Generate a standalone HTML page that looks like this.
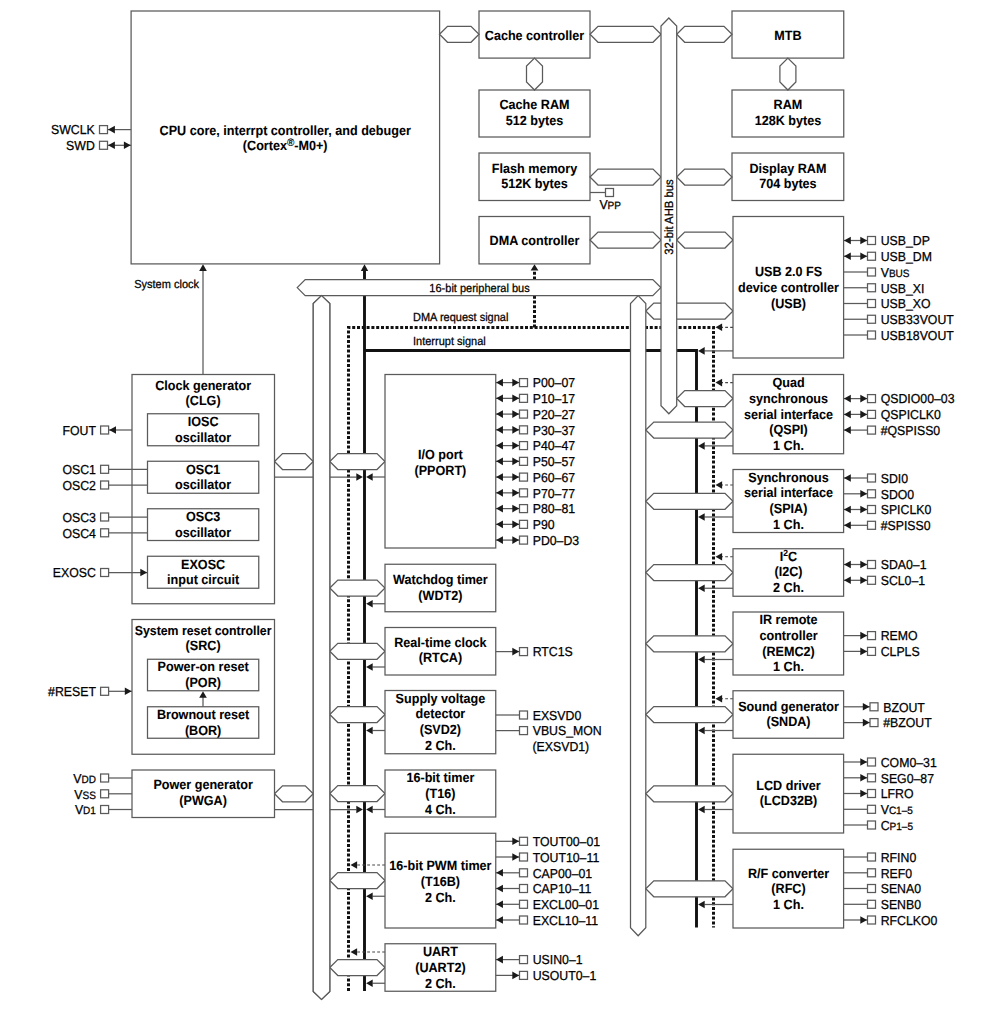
<!DOCTYPE html>
<html><head><meta charset="utf-8"><style>
html,body{margin:0;padding:0;background:#fff;}
svg{display:block;}
.b{fill:#fff;stroke:#5a5a5a;stroke-width:1.25;}
.p{fill:#fff;stroke:#5a5a5a;stroke-width:1.25;}
.h{fill:#fff;stroke:#5a5a5a;stroke-width:1.25;stroke-linejoin:miter;}
.l{stroke:#5a5a5a;stroke-width:1.25;fill:none;}
.ds{stroke:#484848;stroke-width:1.2;stroke-dasharray:2.8 2.2;fill:none;}
.a{fill:#1a1a1a;stroke:none;}
.thk{stroke:#111;stroke-width:2.9;fill:none;}
.dot{stroke:#111;stroke-width:3;stroke-dasharray:3 1.8;fill:none;}
text{text-rendering:geometricPrecision;font-family:"Liberation Sans",sans-serif;fill:#000;stroke:#000;stroke-width:0.25;}
.t{font-size:12.6px;font-weight:bold;stroke-width:0.08;}
.pt{font-size:12.3px;}
.lt{font-size:11px;}
.sm{font-size:10px;}
.srct{font-size:12.3px;}
.sup{font-size:8.5px;}
</style></head><body>
<svg width="1000" height="1012" viewBox="0 0 1000 1012">
<path class="dot" d="M348.5,991 V327.5 H713.5 V927.5"/>
<path class="dot" d="M534.5,327.5 V271"/>
<polygon class="a" points="534.5,264.2 530.6,270.6 538.4,270.6"/>
<path class="thk" d="M364.5,991 V270"/>
<polygon class="a" points="364.5,264.2 360.8,271 368.2,271"/>
<path class="thk" d="M364.5,350.5 H696.5 V927.5"/>
<rect x="131.1" y="11" width="308.5" height="252.9" class="b"/>
<text transform="translate(285.2,134.5) scale(1,1.06)" class="t" text-anchor="middle">CPU core, interrpt controller, and debuger</text>
<text transform="translate(285.2,150.2) scale(1,1.06)" class="t" text-anchor="middle">(Cortex<tspan style="font-size:10px" dy="-3.5">®</tspan><tspan dy="3.5">-M0+)</tspan></text>
<line x1="107.7" y1="129.6" x2="131.1" y2="129.6" class="l"/>
<rect x="99.5" y="125.6" width="8" height="8" class="p"/>
<polygon class="a" points="108.1,129.6 114.9,125.8 114.9,133.4"/>
<text transform="translate(94.8,134.4) scale(1,1.06)" class="pt" text-anchor="end">SWCLK</text>
<line x1="107.7" y1="145.3" x2="131.1" y2="145.3" class="l"/>
<rect x="99.5" y="141.3" width="8" height="8" class="p"/>
<polygon class="a" points="130.7,145.3 123.9,141.5 123.9,149.1"/>
<polygon class="a" points="108.1,145.3 114.9,141.5 114.9,149.1"/>
<text transform="translate(94.8,150.1) scale(1,1.06)" class="pt" text-anchor="end">SWD</text>
<line x1="203" y1="374.5" x2="203" y2="270.5" class="l"/>
<polygon class="a" points="203,264.2 199.2,271 206.8,271"/>
<text transform="translate(199,288) scale(1,1.06)" class="lt" text-anchor="end">System clock</text>
<rect x="479" y="11" width="111" height="47.1" class="b"/>
<text transform="translate(534.5,39.5) scale(1,1.06)" class="t" text-anchor="middle">Cache controller</text>
<rect x="479" y="90" width="111" height="47" class="b"/>
<text transform="translate(534.5,109) scale(1,1.06)" class="t" text-anchor="middle">Cache RAM</text>
<text transform="translate(534.5,124.75) scale(1,1.06)" class="t" text-anchor="middle">512 bytes</text>
<rect x="479" y="153" width="111" height="47.5" class="b"/>
<text transform="translate(534.5,172.5) scale(1,1.06)" class="t" text-anchor="middle">Flash memory</text>
<text transform="translate(534.5,188.25) scale(1,1.06)" class="t" text-anchor="middle">512K bytes</text>
<rect x="479" y="216.5" width="111" height="47.4" class="b"/>
<text transform="translate(534.5,245) scale(1,1.06)" class="t" text-anchor="middle">DMA controller</text>
<rect x="732" y="11" width="111.75" height="47.1" class="b"/>
<text transform="translate(787.9,39.5) scale(1,1.06)" class="t" text-anchor="middle">MTB</text>
<rect x="732" y="90" width="111.75" height="47" class="b"/>
<text transform="translate(787.9,109) scale(1,1.06)" class="t" text-anchor="middle">RAM</text>
<text transform="translate(787.9,124.75) scale(1,1.06)" class="t" text-anchor="middle">128K bytes</text>
<rect x="732" y="153" width="111.75" height="47.5" class="b"/>
<text transform="translate(787.9,172.5) scale(1,1.06)" class="t" text-anchor="middle">Display RAM</text>
<text transform="translate(787.9,188.25) scale(1,1.06)" class="t" text-anchor="middle">704 bytes</text>
<polygon class="h" points="439.5,34.3 447.5,26.3 471,26.3 479,34.3 471,42.3 447.5,42.3"/>
<polygon class="h" points="590,34.3 598,26.3 653,26.3 661,34.3 653,42.3 598,42.3"/>
<polygon class="h" points="676.7,34.3 684.7,26.3 724,26.3 732,34.3 724,42.3 684.7,42.3"/>
<polygon class="h" points="534.5,58.1 542.5,66.1 542.5,82 534.5,90 526.5,82 526.5,66.1"/>
<polygon class="h" points="787.9,58.1 795.9,66.1 795.9,82 787.9,90 779.9,82 779.9,66.1"/>
<polygon class="h" points="590,177 598,169 653,169 661,177 653,185 598,185"/>
<polygon class="h" points="676.7,177 684.7,169 724,169 732,177 724,185 684.7,185"/>
<polygon class="h" points="590,240 598,232 653,232 661,240 653,248 598,248"/>
<polygon class="h" points="676.7,240 684.7,232 725,232 733,240 725,248 684.7,248"/>
<line x1="590" y1="192.5" x2="605.5" y2="192.5" class="l"/>
<rect x="605.5" y="188.5" width="8" height="8" class="p"/>
<text transform="translate(599.4,208.6) scale(1,1.06)" class="pt">V<tspan class="sm">PP</tspan></text>
<polygon class="h" points="645.8,311 653.8,303 725,303 733,311 725,319 653.8,319"/>
<rect x="733" y="216.5" width="110.6" height="141.5" class="b"/>
<text transform="translate(788.5,276.25) scale(1,1.06)" class="t" text-anchor="middle">USB 2.0 FS</text>
<text transform="translate(788.5,292) scale(1,1.06)" class="t" text-anchor="middle">device controller</text>
<text transform="translate(788.5,307.75) scale(1,1.06)" class="t" text-anchor="middle">(USB)</text>
<polygon class="h" points="297.2,287.6 305.2,279.6 652.8,279.6 660.8,287.6 652.8,295.6 305.2,295.6"/>
<text transform="translate(479.5,291.5) scale(1,1.06)" class="lt" text-anchor="middle">16-bit peripheral bus</text>
<text transform="translate(413,321.3) scale(1,1.06)" class="lt">DMA request signal</text>
<text transform="translate(413,345) scale(1,1.06)" class="lt">Interrupt signal</text>
<polygon class="h" points="321.52,295.6 329.8,303.6 329.8,991.5 321.52,999.5 313.25,991.5 313.25,303.6"/>
<polygon class="h" points="638.15,295.6 645.8,303.6 645.8,927.75 638.15,935.75 630.5,927.75 630.5,303.6"/>
<polygon class="h" points="668.85,18 676.7,26 676.7,405.75 668.85,413.75 661,405.75 661,26"/>
<text class="lt" style="font-size:11.3px" transform="translate(673.2,217) rotate(-90) scale(1,1.06)" text-anchor="middle">32-bit AHB bus</text>
<line x1="843.6" y1="240.5" x2="867.5" y2="240.5" class="l"/>
<rect x="867.5" y="236.5" width="8" height="8" class="p"/>
<polygon class="a" points="844,240.5 850.8,236.7 850.8,244.3"/>
<polygon class="a" points="867.1,240.5 860.3,236.7 860.3,244.3"/>
<text transform="translate(880.7,245.3) scale(1,1.06)" class="pt">USB_DP</text>
<line x1="843.6" y1="256.25" x2="867.5" y2="256.25" class="l"/>
<rect x="867.5" y="252.25" width="8" height="8" class="p"/>
<polygon class="a" points="844,256.25 850.8,252.45 850.8,260.05"/>
<polygon class="a" points="867.1,256.25 860.3,252.45 860.3,260.05"/>
<text transform="translate(880.7,261.05) scale(1,1.06)" class="pt">USB_DM</text>
<line x1="843.6" y1="272" x2="867.5" y2="272" class="l"/>
<rect x="867.5" y="268" width="8" height="8" class="p"/>
<text transform="translate(880.7,276.8) scale(1,1.06)" class="pt">V<tspan class="sm">BUS</tspan></text>
<line x1="843.6" y1="287.75" x2="867.5" y2="287.75" class="l"/>
<rect x="867.5" y="283.75" width="8" height="8" class="p"/>
<text transform="translate(880.7,292.55) scale(1,1.06)" class="pt">USB_XI</text>
<line x1="843.6" y1="303.5" x2="867.5" y2="303.5" class="l"/>
<rect x="867.5" y="299.5" width="8" height="8" class="p"/>
<text transform="translate(880.7,308.3) scale(1,1.06)" class="pt">USB_XO</text>
<line x1="843.6" y1="319.25" x2="867.5" y2="319.25" class="l"/>
<rect x="867.5" y="315.25" width="8" height="8" class="p"/>
<text transform="translate(880.7,324.05) scale(1,1.06)" class="pt">USB33VOUT</text>
<line x1="843.6" y1="335" x2="867.5" y2="335" class="l"/>
<rect x="867.5" y="331" width="8" height="8" class="p"/>
<text transform="translate(880.7,339.8) scale(1,1.06)" class="pt">USB18VOUT</text>
<line x1="733" y1="327.3" x2="721.5" y2="327.3" class="ds"/>
<polygon class="a" points="715.5,327.3 722.1,323.5 722.1,331.1"/>
<line x1="733" y1="350.9" x2="704.5" y2="350.9" class="l"/>
<polygon class="a" points="698.1,350.9 704.7,347.1 704.7,354.7"/>
<line x1="733" y1="382.6" x2="721.5" y2="382.6" class="ds"/>
<polygon class="a" points="715.5,382.6 722.1,378.8 722.1,386.4"/>
<line x1="733" y1="445.9" x2="704.5" y2="445.9" class="l"/>
<polygon class="a" points="698.1,445.9 704.7,442.1 704.7,449.7"/>
<polygon class="h" points="645.8,430 653.8,422 725,422 733,430 725,438 653.8,438"/>
<polygon class="h" points="676.7,398.5 684.7,390.5 725,390.5 733,398.5 725,406.5 684.7,406.5"/>
<rect x="733" y="374.5" width="110.6" height="79.25" class="b"/>
<text transform="translate(788.5,387) scale(1,1.06)" class="t" text-anchor="middle">Quad</text>
<text transform="translate(788.5,402.75) scale(1,1.06)" class="t" text-anchor="middle">synchronous</text>
<text transform="translate(788.5,418.5) scale(1,1.06)" class="t" text-anchor="middle">serial interface</text>
<text transform="translate(788.5,434.25) scale(1,1.06)" class="t" text-anchor="middle">(QSPI)</text>
<text transform="translate(788.5,450) scale(1,1.06)" class="t" text-anchor="middle">1 Ch.</text>
<line x1="843.6" y1="398.6" x2="867.5" y2="398.6" class="l"/>
<rect x="867.5" y="394.6" width="8" height="8" class="p"/>
<polygon class="a" points="844,398.6 850.8,394.8 850.8,402.4"/>
<polygon class="a" points="867.1,398.6 860.3,394.8 860.3,402.4"/>
<text transform="translate(880.7,403.4) scale(1,1.06)" class="pt">QSDIO00–03</text>
<line x1="843.6" y1="414.4" x2="867.5" y2="414.4" class="l"/>
<rect x="867.5" y="410.4" width="8" height="8" class="p"/>
<polygon class="a" points="844,414.4 850.8,410.6 850.8,418.2"/>
<polygon class="a" points="867.1,414.4 860.3,410.6 860.3,418.2"/>
<text transform="translate(880.7,419.2) scale(1,1.06)" class="pt">QSPICLK0</text>
<line x1="843.6" y1="430.1" x2="867.5" y2="430.1" class="l"/>
<rect x="867.5" y="426.1" width="8" height="8" class="p"/>
<polygon class="a" points="844,430.1 850.8,426.3 850.8,433.9"/>
<text transform="translate(880.7,434.9) scale(1,1.06)" class="pt">#QSPISS0</text>
<line x1="733" y1="485" x2="721.5" y2="485" class="ds"/>
<polygon class="a" points="715.5,485 722.1,481.2 722.1,488.8"/>
<line x1="733" y1="517" x2="704.5" y2="517" class="l"/>
<polygon class="a" points="698.1,517 704.7,513.2 704.7,520.8"/>
<polygon class="h" points="645.8,501.25 653.8,493.25 725,493.25 733,501.25 725,509.25 653.8,509.25"/>
<rect x="733" y="469.5" width="110.6" height="63" class="b"/>
<text transform="translate(788.5,481.5) scale(1,1.06)" class="t" text-anchor="middle">Synchronous</text>
<text transform="translate(788.5,497.25) scale(1,1.06)" class="t" text-anchor="middle">serial interface</text>
<text transform="translate(788.5,513) scale(1,1.06)" class="t" text-anchor="middle">(SPIA)</text>
<text transform="translate(788.5,528.75) scale(1,1.06)" class="t" text-anchor="middle">1 Ch.</text>
<line x1="843.6" y1="478" x2="867.5" y2="478" class="l"/>
<rect x="867.5" y="474" width="8" height="8" class="p"/>
<polygon class="a" points="844,478 850.8,474.2 850.8,481.8"/>
<text transform="translate(880.7,482.8) scale(1,1.06)" class="pt">SDI0</text>
<line x1="843.6" y1="493.8" x2="867.5" y2="493.8" class="l"/>
<rect x="867.5" y="489.8" width="8" height="8" class="p"/>
<polygon class="a" points="867.1,493.8 860.3,490 860.3,497.6"/>
<text transform="translate(880.7,498.6) scale(1,1.06)" class="pt">SDO0</text>
<line x1="843.6" y1="509.5" x2="867.5" y2="509.5" class="l"/>
<rect x="867.5" y="505.5" width="8" height="8" class="p"/>
<polygon class="a" points="844,509.5 850.8,505.7 850.8,513.3"/>
<polygon class="a" points="867.1,509.5 860.3,505.7 860.3,513.3"/>
<text transform="translate(880.7,514.3) scale(1,1.06)" class="pt">SPICLK0</text>
<line x1="843.6" y1="525.3" x2="867.5" y2="525.3" class="l"/>
<rect x="867.5" y="521.3" width="8" height="8" class="p"/>
<polygon class="a" points="844,525.3 850.8,521.5 850.8,529.1"/>
<text transform="translate(880.7,530.1) scale(1,1.06)" class="pt">#SPISS0</text>
<line x1="733" y1="556.75" x2="721.5" y2="556.75" class="ds"/>
<polygon class="a" points="715.5,556.75 722.1,552.95 722.1,560.55"/>
<line x1="733" y1="588.25" x2="704.5" y2="588.25" class="l"/>
<polygon class="a" points="698.1,588.25 704.7,584.45 704.7,592.05"/>
<polygon class="h" points="645.8,572.5 653.8,564.5 725,564.5 733,572.5 725,580.5 653.8,580.5"/>
<rect x="733" y="548.75" width="110.6" height="47.5" class="b"/>
<text transform="translate(788.5,560.5) scale(1,1.06)" class="t" text-anchor="middle">I<tspan class="sup" dy="-4.5">2</tspan><tspan dy="4.5">C</tspan></text>
<text transform="translate(788.5,576.25) scale(1,1.06)" class="t" text-anchor="middle">(I2C)</text>
<text transform="translate(788.5,592) scale(1,1.06)" class="t" text-anchor="middle">2 Ch.</text>
<line x1="843.6" y1="564.5" x2="867.5" y2="564.5" class="l"/>
<rect x="867.5" y="560.5" width="8" height="8" class="p"/>
<polygon class="a" points="844,564.5 850.8,560.7 850.8,568.3"/>
<polygon class="a" points="867.1,564.5 860.3,560.7 860.3,568.3"/>
<text transform="translate(880.7,569.3) scale(1,1.06)" class="pt">SDA0–1</text>
<line x1="843.6" y1="580.3" x2="867.5" y2="580.3" class="l"/>
<rect x="867.5" y="576.3" width="8" height="8" class="p"/>
<polygon class="a" points="844,580.3 850.8,576.5 850.8,584.1"/>
<polygon class="a" points="867.1,580.3 860.3,576.5 860.3,584.1"/>
<text transform="translate(880.7,585.1) scale(1,1.06)" class="pt">SCL0–1</text>
<line x1="733" y1="659.5" x2="704.5" y2="659.5" class="l"/>
<polygon class="a" points="698.1,659.5 704.7,655.7 704.7,663.3"/>
<polygon class="h" points="645.8,643.75 653.8,635.75 725,635.75 733,643.75 725,651.75 653.8,651.75"/>
<rect x="733" y="612" width="110.6" height="63" class="b"/>
<text transform="translate(788.5,624) scale(1,1.06)" class="t" text-anchor="middle">IR remote</text>
<text transform="translate(788.5,639.75) scale(1,1.06)" class="t" text-anchor="middle">controller</text>
<text transform="translate(788.5,655.5) scale(1,1.06)" class="t" text-anchor="middle">(REMC2)</text>
<text transform="translate(788.5,671.25) scale(1,1.06)" class="t" text-anchor="middle">1 Ch.</text>
<line x1="843.6" y1="635.6" x2="867.5" y2="635.6" class="l"/>
<rect x="867.5" y="631.6" width="8" height="8" class="p"/>
<polygon class="a" points="867.1,635.6 860.3,631.8 860.3,639.4"/>
<text transform="translate(880.7,640.4) scale(1,1.06)" class="pt">REMO</text>
<line x1="843.6" y1="651.4" x2="867.5" y2="651.4" class="l"/>
<rect x="867.5" y="647.4" width="8" height="8" class="p"/>
<polygon class="a" points="867.1,651.4 860.3,647.6 860.3,655.2"/>
<text transform="translate(880.7,656.2) scale(1,1.06)" class="pt">CLPLS</text>
<line x1="733" y1="698.75" x2="721.5" y2="698.75" class="ds"/>
<polygon class="a" points="715.5,698.75 722.1,694.95 722.1,702.55"/>
<line x1="733" y1="730.5" x2="704.5" y2="730.5" class="l"/>
<polygon class="a" points="698.1,730.5 704.7,726.7 704.7,734.3"/>
<polygon class="h" points="645.8,714.5 653.8,706.5 725,706.5 733,714.5 725,722.5 653.8,722.5"/>
<rect x="733" y="690.75" width="110.6" height="47.5" class="b"/>
<text transform="translate(788.5,710.5) scale(1,1.06)" class="t" text-anchor="middle">Sound generator</text>
<text transform="translate(788.5,726.25) scale(1,1.06)" class="t" text-anchor="middle">(SNDA)</text>
<line x1="843.6" y1="706.8" x2="870" y2="706.8" class="l"/>
<rect x="870" y="702.8" width="8" height="8" class="p"/>
<polygon class="a" points="869.6,706.8 862.8,703 862.8,710.6"/>
<text transform="translate(883.2,711.6) scale(1,1.06)" class="pt">BZOUT</text>
<line x1="843.6" y1="722.6" x2="870" y2="722.6" class="l"/>
<rect x="870" y="718.6" width="8" height="8" class="p"/>
<polygon class="a" points="869.6,722.6 862.8,718.8 862.8,726.4"/>
<text transform="translate(883.2,727.4) scale(1,1.06)" class="pt">#BZOUT</text>
<line x1="733" y1="809.5" x2="704.5" y2="809.5" class="l"/>
<polygon class="a" points="698.1,809.5 704.7,805.7 704.7,813.3"/>
<polygon class="h" points="645.8,793.75 653.8,785.75 725,785.75 733,793.75 725,801.75 653.8,801.75"/>
<rect x="733" y="754.25" width="110.6" height="78.75" class="b"/>
<text transform="translate(788.5,789.5) scale(1,1.06)" class="t" text-anchor="middle">LCD driver</text>
<text transform="translate(788.5,805.25) scale(1,1.06)" class="t" text-anchor="middle">(LCD32B)</text>
<line x1="843.6" y1="762" x2="867.5" y2="762" class="l"/>
<rect x="867.5" y="758" width="8" height="8" class="p"/>
<polygon class="a" points="867.1,762 860.3,758.2 860.3,765.8"/>
<text transform="translate(880.7,766.8) scale(1,1.06)" class="pt">COM0–31</text>
<line x1="843.6" y1="777.8" x2="867.5" y2="777.8" class="l"/>
<rect x="867.5" y="773.8" width="8" height="8" class="p"/>
<polygon class="a" points="867.1,777.8 860.3,774 860.3,781.6"/>
<text transform="translate(880.7,782.6) scale(1,1.06)" class="pt">SEG0–87</text>
<line x1="843.6" y1="793.5" x2="867.5" y2="793.5" class="l"/>
<rect x="867.5" y="789.5" width="8" height="8" class="p"/>
<polygon class="a" points="867.1,793.5 860.3,789.7 860.3,797.3"/>
<text transform="translate(880.7,798.3) scale(1,1.06)" class="pt">LFRO</text>
<line x1="843.6" y1="809.3" x2="867.5" y2="809.3" class="l"/>
<rect x="867.5" y="805.3" width="8" height="8" class="p"/>
<text transform="translate(880.7,814.1) scale(1,1.06)" class="pt">V<tspan class="sm">C1–5</tspan></text>
<line x1="843.6" y1="825" x2="867.5" y2="825" class="l"/>
<rect x="867.5" y="821" width="8" height="8" class="p"/>
<text transform="translate(880.7,829.8) scale(1,1.06)" class="pt">C<tspan class="sm">P1–5</tspan></text>
<line x1="733" y1="904.5" x2="704.5" y2="904.5" class="l"/>
<polygon class="a" points="698.1,904.5 704.7,900.7 704.7,908.3"/>
<polygon class="h" points="645.8,888.75 653.8,880.75 725,880.75 733,888.75 725,896.75 653.8,896.75"/>
<rect x="733" y="849.25" width="110.6" height="78.75" class="b"/>
<text transform="translate(788.5,877.5) scale(1,1.06)" class="t" text-anchor="middle">R/F converter</text>
<text transform="translate(788.5,893.25) scale(1,1.06)" class="t" text-anchor="middle">(RFC)</text>
<text transform="translate(788.5,909) scale(1,1.06)" class="t" text-anchor="middle">1 Ch.</text>
<line x1="843.6" y1="857" x2="867.5" y2="857" class="l"/>
<rect x="867.5" y="853" width="8" height="8" class="p"/>
<text transform="translate(880.7,861.8) scale(1,1.06)" class="pt">RFIN0</text>
<line x1="843.6" y1="872.8" x2="867.5" y2="872.8" class="l"/>
<rect x="867.5" y="868.8" width="8" height="8" class="p"/>
<text transform="translate(880.7,877.6) scale(1,1.06)" class="pt">REF0</text>
<line x1="843.6" y1="888.5" x2="867.5" y2="888.5" class="l"/>
<rect x="867.5" y="884.5" width="8" height="8" class="p"/>
<text transform="translate(880.7,893.3) scale(1,1.06)" class="pt">SENA0</text>
<line x1="843.6" y1="904.3" x2="867.5" y2="904.3" class="l"/>
<rect x="867.5" y="900.3" width="8" height="8" class="p"/>
<text transform="translate(880.7,909.1) scale(1,1.06)" class="pt">SENB0</text>
<line x1="843.6" y1="920" x2="867.5" y2="920" class="l"/>
<rect x="867.5" y="916" width="8" height="8" class="p"/>
<polygon class="a" points="867.1,920 860.3,916.2 860.3,923.8"/>
<text transform="translate(880.7,924.8) scale(1,1.06)" class="pt">RFCLKO0</text>
<line x1="385" y1="477" x2="372.5" y2="477" class="l"/>
<polygon class="a" points="366.1,477 372.7,473.2 372.7,480.8"/>
<polygon class="h" points="329.8,461.5 337.8,453.5 377,453.5 385,461.5 377,469.5 337.8,469.5"/>
<rect x="385" y="374.5" width="110.75" height="173.5" class="b"/>
<text transform="translate(440.4,458.75) scale(1,1.06)" class="t" text-anchor="middle">I/O port</text>
<text transform="translate(440.4,474.5) scale(1,1.06)" class="t" text-anchor="middle">(PPORT)</text>
<line x1="495.75" y1="382.6" x2="519.5" y2="382.6" class="l"/>
<rect x="519.5" y="378.6" width="8" height="8" class="p"/>
<polygon class="a" points="496.15,382.6 502.95,378.8 502.95,386.4"/>
<polygon class="a" points="519.1,382.6 512.3,378.8 512.3,386.4"/>
<text transform="translate(532.7,387.4) scale(1,1.06)" class="pt">P00–07</text>
<line x1="495.75" y1="398.35" x2="519.5" y2="398.35" class="l"/>
<rect x="519.5" y="394.35" width="8" height="8" class="p"/>
<polygon class="a" points="496.15,398.35 502.95,394.55 502.95,402.15"/>
<polygon class="a" points="519.1,398.35 512.3,394.55 512.3,402.15"/>
<text transform="translate(532.7,403.15) scale(1,1.06)" class="pt">P10–17</text>
<line x1="495.75" y1="414.1" x2="519.5" y2="414.1" class="l"/>
<rect x="519.5" y="410.1" width="8" height="8" class="p"/>
<polygon class="a" points="496.15,414.1 502.95,410.3 502.95,417.9"/>
<polygon class="a" points="519.1,414.1 512.3,410.3 512.3,417.9"/>
<text transform="translate(532.7,418.9) scale(1,1.06)" class="pt">P20–27</text>
<line x1="495.75" y1="429.85" x2="519.5" y2="429.85" class="l"/>
<rect x="519.5" y="425.85" width="8" height="8" class="p"/>
<polygon class="a" points="496.15,429.85 502.95,426.05 502.95,433.65"/>
<polygon class="a" points="519.1,429.85 512.3,426.05 512.3,433.65"/>
<text transform="translate(532.7,434.65) scale(1,1.06)" class="pt">P30–37</text>
<line x1="495.75" y1="445.6" x2="519.5" y2="445.6" class="l"/>
<rect x="519.5" y="441.6" width="8" height="8" class="p"/>
<polygon class="a" points="496.15,445.6 502.95,441.8 502.95,449.4"/>
<polygon class="a" points="519.1,445.6 512.3,441.8 512.3,449.4"/>
<text transform="translate(532.7,450.4) scale(1,1.06)" class="pt">P40–47</text>
<line x1="495.75" y1="461.35" x2="519.5" y2="461.35" class="l"/>
<rect x="519.5" y="457.35" width="8" height="8" class="p"/>
<polygon class="a" points="496.15,461.35 502.95,457.55 502.95,465.15"/>
<polygon class="a" points="519.1,461.35 512.3,457.55 512.3,465.15"/>
<text transform="translate(532.7,466.15) scale(1,1.06)" class="pt">P50–57</text>
<line x1="495.75" y1="477.1" x2="519.5" y2="477.1" class="l"/>
<rect x="519.5" y="473.1" width="8" height="8" class="p"/>
<polygon class="a" points="496.15,477.1 502.95,473.3 502.95,480.9"/>
<polygon class="a" points="519.1,477.1 512.3,473.3 512.3,480.9"/>
<text transform="translate(532.7,481.9) scale(1,1.06)" class="pt">P60–67</text>
<line x1="495.75" y1="492.85" x2="519.5" y2="492.85" class="l"/>
<rect x="519.5" y="488.85" width="8" height="8" class="p"/>
<polygon class="a" points="496.15,492.85 502.95,489.05 502.95,496.65"/>
<polygon class="a" points="519.1,492.85 512.3,489.05 512.3,496.65"/>
<text transform="translate(532.7,497.65) scale(1,1.06)" class="pt">P70–77</text>
<line x1="495.75" y1="508.6" x2="519.5" y2="508.6" class="l"/>
<rect x="519.5" y="504.6" width="8" height="8" class="p"/>
<polygon class="a" points="496.15,508.6 502.95,504.8 502.95,512.4"/>
<polygon class="a" points="519.1,508.6 512.3,504.8 512.3,512.4"/>
<text transform="translate(532.7,513.4) scale(1,1.06)" class="pt">P80–81</text>
<line x1="495.75" y1="524.35" x2="519.5" y2="524.35" class="l"/>
<rect x="519.5" y="520.35" width="8" height="8" class="p"/>
<polygon class="a" points="496.15,524.35 502.95,520.55 502.95,528.15"/>
<polygon class="a" points="519.1,524.35 512.3,520.55 512.3,528.15"/>
<text transform="translate(532.7,529.15) scale(1,1.06)" class="pt">P90</text>
<line x1="495.75" y1="540.1" x2="519.5" y2="540.1" class="l"/>
<rect x="519.5" y="536.1" width="8" height="8" class="p"/>
<polygon class="a" points="496.15,540.1 502.95,536.3 502.95,543.9"/>
<polygon class="a" points="519.1,540.1 512.3,536.3 512.3,543.9"/>
<text transform="translate(532.7,544.9) scale(1,1.06)" class="pt">PD0–D3</text>
<line x1="385" y1="603.75" x2="372.5" y2="603.75" class="l"/>
<polygon class="a" points="366.1,603.75 372.7,599.95 372.7,607.55"/>
<polygon class="h" points="329.8,588 337.8,580 377,580 385,588 377,596 337.8,596"/>
<rect x="385" y="564.25" width="110.75" height="47.5" class="b"/>
<text transform="translate(440.4,583.75) scale(1,1.06)" class="t" text-anchor="middle">Watchdog timer</text>
<text transform="translate(440.4,599.5) scale(1,1.06)" class="t" text-anchor="middle">(WDT2)</text>
<line x1="385" y1="667" x2="372.5" y2="667" class="l"/>
<polygon class="a" points="366.1,667 372.7,663.2 372.7,670.8"/>
<polygon class="h" points="329.8,651.25 337.8,643.25 377,643.25 385,651.25 377,659.25 337.8,659.25"/>
<rect x="385" y="627.5" width="110.75" height="47.5" class="b"/>
<text transform="translate(440.4,646.5) scale(1,1.06)" class="t" text-anchor="middle">Real-time clock</text>
<text transform="translate(440.4,662.25) scale(1,1.06)" class="t" text-anchor="middle">(RTCA)</text>
<line x1="495.75" y1="651.6" x2="519.5" y2="651.6" class="l"/>
<rect x="519.5" y="647.6" width="8" height="8" class="p"/>
<polygon class="a" points="519.1,651.6 512.3,647.8 512.3,655.4"/>
<text transform="translate(532.7,656.4) scale(1,1.06)" class="pt">RTC1S</text>
<line x1="385" y1="730.5" x2="372.5" y2="730.5" class="l"/>
<polygon class="a" points="366.1,730.5 372.7,726.7 372.7,734.3"/>
<polygon class="h" points="329.8,714.5 337.8,706.5 377,706.5 385,714.5 377,722.5 337.8,722.5"/>
<rect x="385" y="690.5" width="110.75" height="63.25" class="b"/>
<text transform="translate(440.4,702.5) scale(1,1.06)" class="t" text-anchor="middle">Supply voltage</text>
<text transform="translate(440.4,718.25) scale(1,1.06)" class="t" text-anchor="middle">detector</text>
<text transform="translate(440.4,734) scale(1,1.06)" class="t" text-anchor="middle">(SVD2)</text>
<text transform="translate(440.4,749.75) scale(1,1.06)" class="t" text-anchor="middle">2 Ch.</text>
<line x1="495.75" y1="715" x2="519.5" y2="715" class="l"/>
<rect x="519.5" y="711" width="8" height="8" class="p"/>
<text transform="translate(532.7,719.8) scale(1,1.06)" class="pt">EXSVD0</text>
<line x1="495.75" y1="730.6" x2="519.5" y2="730.6" class="l"/>
<rect x="519.5" y="726.6" width="8" height="8" class="p"/>
<text transform="translate(532.7,735.4) scale(1,1.06)" class="pt">VBUS_MON</text>
<text transform="translate(532.5,750.8) scale(1,1.06)" class="pt">(EXSVD1)</text>
<line x1="385" y1="809.5" x2="372.5" y2="809.5" class="l"/>
<polygon class="a" points="366.1,809.5 372.7,805.7 372.7,813.3"/>
<polygon class="h" points="329.8,793.5 337.8,785.5 377,785.5 385,793.5 377,801.5 337.8,801.5"/>
<rect x="385" y="770" width="110.75" height="47" class="b"/>
<text transform="translate(440.4,782) scale(1,1.06)" class="t" text-anchor="middle">16-bit timer</text>
<text transform="translate(440.4,797.75) scale(1,1.06)" class="t" text-anchor="middle">(T16)</text>
<text transform="translate(440.4,813.5) scale(1,1.06)" class="t" text-anchor="middle">4 Ch.</text>
<line x1="385" y1="865" x2="356.5" y2="865" class="ds"/>
<polygon class="a" points="350.5,865 357.1,861.2 357.1,868.8"/>
<line x1="385" y1="896.25" x2="372.5" y2="896.25" class="l"/>
<polygon class="a" points="366.1,896.25 372.7,892.45 372.7,900.05"/>
<polygon class="h" points="329.8,880.5 337.8,872.5 377,872.5 385,880.5 377,888.5 337.8,888.5"/>
<rect x="385" y="833.25" width="110.75" height="94.75" class="b"/>
<text transform="translate(440.4,870) scale(1,1.06)" class="t" text-anchor="middle">16-bit PWM timer</text>
<text transform="translate(440.4,885.75) scale(1,1.06)" class="t" text-anchor="middle">(T16B)</text>
<text transform="translate(440.4,901.5) scale(1,1.06)" class="t" text-anchor="middle">2 Ch.</text>
<line x1="495.75" y1="841.3" x2="519.5" y2="841.3" class="l"/>
<rect x="519.5" y="837.3" width="8" height="8" class="p"/>
<polygon class="a" points="519.1,841.3 512.3,837.5 512.3,845.1"/>
<text transform="translate(532.7,846.1) scale(1,1.06)" class="pt">TOUT00–01</text>
<line x1="495.75" y1="857" x2="519.5" y2="857" class="l"/>
<rect x="519.5" y="853" width="8" height="8" class="p"/>
<polygon class="a" points="519.1,857 512.3,853.2 512.3,860.8"/>
<text transform="translate(532.7,861.8) scale(1,1.06)" class="pt">TOUT10–11</text>
<line x1="495.75" y1="872.8" x2="519.5" y2="872.8" class="l"/>
<rect x="519.5" y="868.8" width="8" height="8" class="p"/>
<polygon class="a" points="496.15,872.8 502.95,869 502.95,876.6"/>
<text transform="translate(532.7,877.6) scale(1,1.06)" class="pt">CAP00–01</text>
<line x1="495.75" y1="888.5" x2="519.5" y2="888.5" class="l"/>
<rect x="519.5" y="884.5" width="8" height="8" class="p"/>
<polygon class="a" points="496.15,888.5 502.95,884.7 502.95,892.3"/>
<text transform="translate(532.7,893.3) scale(1,1.06)" class="pt">CAP10–11</text>
<line x1="495.75" y1="904.3" x2="519.5" y2="904.3" class="l"/>
<rect x="519.5" y="900.3" width="8" height="8" class="p"/>
<polygon class="a" points="496.15,904.3 502.95,900.5 502.95,908.1"/>
<text transform="translate(532.7,909.1) scale(1,1.06)" class="pt">EXCL00–01</text>
<line x1="495.75" y1="920" x2="519.5" y2="920" class="l"/>
<rect x="519.5" y="916" width="8" height="8" class="p"/>
<polygon class="a" points="496.15,920 502.95,916.2 502.95,923.8"/>
<text transform="translate(532.7,924.8) scale(1,1.06)" class="pt">EXCL10–11</text>
<line x1="385" y1="952" x2="356.5" y2="952" class="ds"/>
<polygon class="a" points="350.5,952 357.1,948.2 357.1,955.8"/>
<line x1="385" y1="983.25" x2="372.5" y2="983.25" class="l"/>
<polygon class="a" points="366.1,983.25 372.7,979.45 372.7,987.05"/>
<polygon class="h" points="329.8,967.5 337.8,959.5 377,959.5 385,967.5 377,975.5 337.8,975.5"/>
<rect x="385" y="943.75" width="110.75" height="47.5" class="b"/>
<text transform="translate(440.4,956.25) scale(1,1.06)" class="t" text-anchor="middle">UART</text>
<text transform="translate(440.4,972) scale(1,1.06)" class="t" text-anchor="middle">(UART2)</text>
<text transform="translate(440.4,987.75) scale(1,1.06)" class="t" text-anchor="middle">2 Ch.</text>
<line x1="495.75" y1="959.6" x2="519.5" y2="959.6" class="l"/>
<rect x="519.5" y="955.6" width="8" height="8" class="p"/>
<polygon class="a" points="496.15,959.6 502.95,955.8 502.95,963.4"/>
<text transform="translate(532.7,964.4) scale(1,1.06)" class="pt">USIN0–1</text>
<line x1="495.75" y1="975.4" x2="519.5" y2="975.4" class="l"/>
<rect x="519.5" y="971.4" width="8" height="8" class="p"/>
<polygon class="a" points="519.1,975.4 512.3,971.6 512.3,979.2"/>
<text transform="translate(532.7,980.2) scale(1,1.06)" class="pt">USOUT0–1</text>
<line x1="274.5" y1="477" x2="356.5" y2="477" class="l"/>
<polygon class="a" points="362.9,477 356.3,473.2 356.3,480.8"/>
<polygon class="h" points="274.5,461.5 282.5,453.5 305.25,453.5 313.25,461.5 305.25,469.5 282.5,469.5"/>
<rect x="132" y="374.5" width="142.5" height="229.25" class="b"/>
<text transform="translate(203.1,389.5) scale(1,1.06)" class="t" text-anchor="middle">Clock generator</text>
<text transform="translate(203.1,405.25) scale(1,1.06)" class="t" text-anchor="middle">(CLG)</text>
<rect x="147.5" y="413.75" width="111.25" height="32" class="b"/>
<text transform="translate(203.1,426.25) scale(1,1.06)" class="t" text-anchor="middle">IOSC</text>
<text transform="translate(203.1,442) scale(1,1.06)" class="t" text-anchor="middle">oscillator</text>
<rect x="147.5" y="461.25" width="111.25" height="32" class="b"/>
<text transform="translate(203.1,473.5) scale(1,1.06)" class="t" text-anchor="middle">OSC1</text>
<text transform="translate(203.1,489.25) scale(1,1.06)" class="t" text-anchor="middle">oscillator</text>
<rect x="147.5" y="508.75" width="111.25" height="31.75" class="b"/>
<text transform="translate(203.1,521) scale(1,1.06)" class="t" text-anchor="middle">OSC3</text>
<text transform="translate(203.1,536.75) scale(1,1.06)" class="t" text-anchor="middle">oscillator</text>
<rect x="147.5" y="556.25" width="111.25" height="32" class="b"/>
<text transform="translate(203.1,568.5) scale(1,1.06)" class="t" text-anchor="middle">EXOSC</text>
<text transform="translate(203.1,584.25) scale(1,1.06)" class="t" text-anchor="middle">input circuit</text>
<line x1="108.8" y1="430" x2="132" y2="430" class="l"/>
<rect x="100.6" y="426" width="8" height="8" class="p"/>
<polygon class="a" points="109.2,430 116,426.2 116,433.8"/>
<text transform="translate(95.9,434.8) scale(1,1.06)" class="pt" text-anchor="end">FOUT</text>
<line x1="108.8" y1="469.3" x2="147.5" y2="469.3" class="l"/>
<rect x="100.6" y="465.3" width="8" height="8" class="p"/>
<text transform="translate(95.9,474.1) scale(1,1.06)" class="pt" text-anchor="end">OSC1</text>
<line x1="108.8" y1="485" x2="147.5" y2="485" class="l"/>
<rect x="100.6" y="481" width="8" height="8" class="p"/>
<text transform="translate(95.9,489.8) scale(1,1.06)" class="pt" text-anchor="end">OSC2</text>
<line x1="108.8" y1="517" x2="147.5" y2="517" class="l"/>
<rect x="100.6" y="513" width="8" height="8" class="p"/>
<text transform="translate(95.9,521.8) scale(1,1.06)" class="pt" text-anchor="end">OSC3</text>
<line x1="108.8" y1="532.8" x2="147.5" y2="532.8" class="l"/>
<rect x="100.6" y="528.8" width="8" height="8" class="p"/>
<text transform="translate(95.9,537.6) scale(1,1.06)" class="pt" text-anchor="end">OSC4</text>
<line x1="108.8" y1="572.5" x2="147.5" y2="572.5" class="l"/>
<rect x="100.6" y="568.5" width="8" height="8" class="p"/>
<polygon class="a" points="147.1,572.5 140.3,568.7 140.3,576.3"/>
<text transform="translate(95.9,577.3) scale(1,1.06)" class="pt" text-anchor="end">EXOSC</text>
<rect x="132" y="619.5" width="142.5" height="134.75" class="b"/>
<text transform="translate(203.1,634.5) scale(1,1.06)" class="t srct" text-anchor="middle">System reset controller</text>
<text transform="translate(203.1,649.8) scale(1,1.06)" class="t" text-anchor="middle">(SRC)</text>
<rect x="147.5" y="659.25" width="111.25" height="31.5" class="b"/>
<text transform="translate(203.1,671.3) scale(1,1.06)" class="t" text-anchor="middle">Power-on reset</text>
<text transform="translate(203.1,687.05) scale(1,1.06)" class="t" text-anchor="middle">(POR)</text>
<rect x="147.5" y="706.75" width="111.25" height="31.5" class="b"/>
<text transform="translate(203.1,718.8) scale(1,1.06)" class="t" text-anchor="middle">Brownout reset</text>
<text transform="translate(203.1,734.55) scale(1,1.06)" class="t" text-anchor="middle">(BOR)</text>
<line x1="203" y1="706.75" x2="203" y2="697" class="l"/>
<polygon class="a" points="203,691.2 199.2,697.8 206.8,697.8"/>
<line x1="108.8" y1="691.3" x2="132" y2="691.3" class="l"/>
<rect x="100.6" y="687.3" width="8" height="8" class="p"/>
<polygon class="a" points="131.6,691.3 124.8,687.5 124.8,695.1"/>
<text transform="translate(95.9,696.1) scale(1,1.06)" class="pt" text-anchor="end">#RESET</text>
<line x1="274.5" y1="809.5" x2="356.5" y2="809.5" class="l"/>
<polygon class="a" points="362.9,809.5 356.3,805.7 356.3,813.3"/>
<polygon class="h" points="274.5,793.75 282.5,785.75 305.25,785.75 313.25,793.75 305.25,801.75 282.5,801.75"/>
<rect x="132" y="770" width="142.5" height="47.5" class="b"/>
<text transform="translate(203.1,789) scale(1,1.06)" class="t" text-anchor="middle">Power generator</text>
<text transform="translate(203.1,804.75) scale(1,1.06)" class="t" text-anchor="middle">(PWGA)</text>
<line x1="108.8" y1="778" x2="132" y2="778" class="l"/>
<rect x="100.6" y="774" width="8" height="8" class="p"/>
<text transform="translate(95.9,782.8) scale(1,1.06)" class="pt" text-anchor="end">V<tspan class="sm">DD</tspan></text>
<line x1="108.8" y1="793.8" x2="132" y2="793.8" class="l"/>
<rect x="100.6" y="789.8" width="8" height="8" class="p"/>
<text transform="translate(95.9,798.6) scale(1,1.06)" class="pt" text-anchor="end">V<tspan class="sm">SS</tspan></text>
<line x1="108.8" y1="809.5" x2="132" y2="809.5" class="l"/>
<rect x="100.6" y="805.5" width="8" height="8" class="p"/>
<text transform="translate(95.9,814.3) scale(1,1.06)" class="pt" text-anchor="end">V<tspan class="sm">D1</tspan></text>
<polygon class="h" points="321.52,295.6 329.8,303.6 329.8,991.5 321.52,999.5 313.25,991.5 313.25,303.6"/>
</svg>
</body></html>
